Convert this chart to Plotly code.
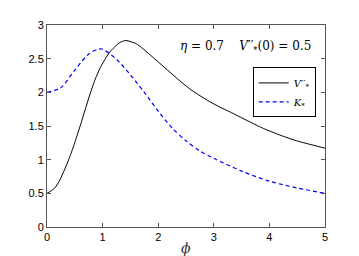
import plotly.graph_objects as go

phi_v = [0, 0.13, 0.22, 0.31, 0.40, 0.49, 0.6, 0.7, 0.78, 0.87, 0.96, 1.13, 1.31, 1.42, 1.61, 1.85, 2.03, 2.21, 2.39, 2.57, 2.75, 2.93, 3.11, 3.29, 3.59, 3.89, 4.19, 4.49, 4.79, 5.0]
v_vals = [0.50, 0.57, 0.68, 0.84, 1.02, 1.23, 1.51, 1.78, 1.99, 2.20, 2.37, 2.60, 2.74, 2.77, 2.72, 2.56, 2.43, 2.30, 2.17, 2.05, 1.95, 1.86, 1.78, 1.71, 1.585, 1.465, 1.365, 1.28, 1.215, 1.17]

phi_k = [0, 0.25, 0.5, 0.75, 0.92, 1.0, 1.25, 1.5, 1.75, 2.0, 2.25, 2.5, 2.75, 3.0, 3.5, 4.0, 4.5, 5.0]
k_vals = [2.00, 2.07, 2.33, 2.57, 2.64, 2.64, 2.49, 2.26, 2.00, 1.72, 1.47, 1.28, 1.13, 1.02, 0.83, 0.68, 0.58, 0.50]

x_ticks = [0, 1, 2, 3, 4, 5]
y_ticks = [0, 0.5, 1, 1.5, 2, 2.5, 3]

serif = "DejaVu Serif"
sans = "Liberation Sans"

fig = go.Figure()
fig.add_trace(go.Scatter(x=phi_v, y=v_vals, mode="lines",
                         line=dict(color="black", width=1, shape="spline", smoothing=0.6),
                         name="<i>V</i>′′<sub>*</sub>"))
fig.add_trace(go.Scatter(x=phi_k, y=k_vals, mode="lines",
                         line=dict(color="#0000ff", width=1.2, dash="4px,3px", shape="spline", smoothing=0.8),
                         name="<i>K</i><sub>*</sub>"))

axis_common = dict(showline=True, linecolor="#555", linewidth=1, mirror="ticks",
                   ticks="inside", ticklen=4, tickcolor="#555", showgrid=False, zeroline=False,
                   tickfont=dict(family=sans, size=11, color="black"))

fig.update_layout(
    width=351, height=248,
    margin=dict(l=39, r=34, t=11, b=29),
    paper_bgcolor="white", plot_bgcolor="white",
    xaxis=dict(range=[0, 5], tickvals=x_ticks, **axis_common),
    yaxis=dict(range=[0, 3], tickvals=y_ticks, **axis_common),
    showlegend=True,
    legend=dict(x=0.74, y=0.79, xanchor="left", yanchor="top",
                bordercolor="black", borderwidth=1, bgcolor="white",
                font=dict(family=serif, size=10, color="black"),
                tracegroupgap=0, itemwidth=30),
    annotations=[
        dict(text="<i>η</i> = 0.7    <i>V</i>′′<sub>*</sub>(0) = 0.5", x=0.957, y=0.89,
             xref="paper", yref="paper", xanchor="right", yanchor="middle", showarrow=False,
             font=dict(family=serif, size=12, color="black")),
        dict(text="<i>ϕ</i>", x=0.5, y=0, xref="paper", yref="paper", xanchor="center", yanchor="top",
             yshift=-11, showarrow=False, font=dict(family=serif, size=14, color="#333")),
    ],
)

fig.write_html("out.html")
